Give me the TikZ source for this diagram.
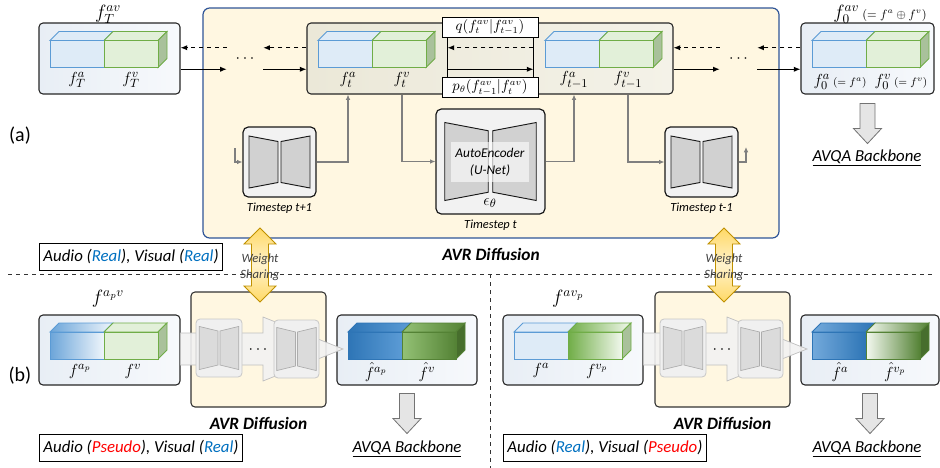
\documentclass[tikz,border=0pt]{standalone}
\usepackage{fontspec}
\setsansfont{Carlito}
\usetikzlibrary{positioning}
\usetikzlibrary{arrows.meta}
\newdimen\px
\px=0.75pt
\definecolor{avrfill}{HTML}{FFF7E1}
\definecolor{avrline}{HTML}{2F5597}
\definecolor{featL}{HTML}{E8EEF5}
\definecolor{featR}{HTML}{F7F9FC}
\definecolor{midL}{HTML}{EBE8D8}
\definecolor{midR}{HTML}{F4F2E8}
\definecolor{bluL}{HTML}{DEEBF7}
\definecolor{bluD}{HTML}{5B9BD5}
\definecolor{bluX}{HTML}{2E75B6}
\definecolor{grnL}{HTML}{E2F0D9}
\definecolor{grnD}{HTML}{70AD47}
\definecolor{grnX}{HTML}{548235}
\definecolor{grnS}{HTML}{A9C19B}
\definecolor{realc}{HTML}{0070C0}
\definecolor{pseudoc}{HTML}{FF0000}
\definecolor{gold}{HTML}{FFD966}
\definecolor{goldL}{HTML}{FFF2CC}
\definecolor{goldD}{HTML}{BF9000}
\definecolor{conn}{HTML}{7F7F7F}
\tikzset{
    avrpanel/.style = {draw=avrline, line width=0.9pt, rounded corners=5pt, fill=avrfill},
    avrsmall/.style = {draw=black!80, line width=0.8pt, rounded corners=3pt, fill=avrfill, minimum width=135\px, minimum height=115\px},
    featbox/.style = {draw=black!85, line width=0.8pt, rounded corners=3pt, left color=featL, right color=featR, minimum width=141\px, minimum height=71\px},
    midbox/.style = {draw=black!85, line width=0.8pt, rounded corners=3pt, left color=midL, right color=midR},
    qpbox/.style = {draw=black, line width=0.7pt, fill=white, minimum width=96\px, minimum height=20\px, inner sep=0pt, font=\fontsize{10.5}{12}\selectfont},
    condbox/.style = {draw=black, line width=0.7pt, fill=white, minimum height=27\px, inner xsep=3pt, font=\sffamily\itshape\fontsize{12.6}{14}\selectfont},
    blk/.style = {draw=black!90, line width=0.9pt, rounded corners=4pt, fill=black!5},
    blkfade/.style = {draw=black!22, line width=0.6pt, rounded corners=3pt, fill=black!6, minimum width=46\px, minimum height=58\px},
    trap/.style = {draw=black!90, line width=0.7pt, fill=black!18},
    trapfade/.style = {draw=black!32, line width=0.5pt, fill=black!14},
    aebox/.style = {fill=white, fill opacity=0.6, text opacity=1, align=center, minimum width=78\px, minimum height=40\px, inner sep=1pt, font=\sffamily\itshape\fontsize{10}{13}\selectfont},
    dots/.style = {minimum height=21\px, inner sep=0pt, font=\fontsize{12}{14}\selectfont},
    fwd/.style = {-{Latex[length=5pt,width=4pt]}, line width=0.8pt, black},
    bwd/.style = {fwd, dashed},
    grayarr/.style = {-{Latex[length=4pt,width=3.5pt]}, line width=0.8pt, conn},
    sepline/.style = {dashed, line width=0.6pt, black!80},
    fadearr/.style = {draw=black!25, line width=0.5pt, fill=black!5, fill opacity=0.9},
    wsfill/.style = {draw=goldD, line width=0.6pt, top color=gold, bottom color=gold, middle color=goldL},
    bigarr/.style = {fill=black!10, draw=black!55, line width=0.6pt},
    mlabel/.style = {font=\fontsize{13}{15}\selectfont, inner sep=1pt},
    tlabel/.style = {font=\fontsize{14}{16}\selectfont, inner sep=1pt},
    steplabel/.style = {font=\sffamily\itshape\fontsize{9.3}{11}\selectfont, inner sep=1pt},
    diflabel/.style = {font=\sffamily\bfseries\itshape\fontsize{13}{15}\selectfont, inner sep=1pt},
    backbone/.style = {font=\sffamily\itshape\fontsize{12.6}{14}\selectfont, inner sep=1pt},
    wslabel/.style = {align=center, text=black!75, font=\sffamily\itshape\fontsize{9.5}{12}\selectfont, inner sep=0pt},
    partlabel/.style = {font=\sffamily\fontsize{15}{18}\selectfont},
    % cube faces
    aplain/.style = {fill=bluL, draw=bluD, line width=0.7pt},
    vplain/.style = {fill=grnL, draw=grnD, line width=0.7pt},
    vside/.style = {fill=grnS, draw=grnD, line width=0.7pt},
    afade/.style = {left color=bluD!90, right color=bluL!50!white, draw=bluD, line width=0.7pt},
    vfade/.style = {left color=grnD, right color=grnL!50!white, draw=grnD, line width=0.7pt},
    ahatA/.style = {left color=bluX, middle color=bluL!60!white, right color=bluD, draw=bluX, line width=0.7pt},
    vhatA/.style = {left color=grnD!75!white, right color=grnX, draw=grnX, line width=0.7pt},
    ahatB/.style = {left color=bluD!85, middle color=bluL!40!white, right color=bluX, draw=bluX, line width=0.7pt},
    vhatB/.style = {left color=grnL!40!white, right color=grnX, draw=grnX, line width=0.7pt},
    vsideD/.style = {fill=grnX!85!black, draw=grnX, line width=0.7pt},
    unet/.pic = {
        \draw[#1] (-30.5,-26) -- (-1.5,-20.5) -- (-1.5,20.5) -- (-30.5,26) -- cycle;
        \draw[#1] (30.5,-26) -- (1.5,-20.5) -- (1.5,20.5) -- (30.5,26) -- cycle;
    },
    wsarrow/.pic = {
        \draw[wsfill] (0,0) -- (16,16) -- (8.5,16) -- (8.5,58) -- (16,58) -- (0,74) -- (-16,58) -- (-8.5,58) -- (-8.5,16) -- (-16,16) -- cycle;
    },
    downarr/.pic = {
        \draw[bigarr] (-7.5,0) -- (7.5,0) -- (7.5,25) -- (14,25) -- (0,40) -- (-14,25) -- (-7.5,25) -- cycle;
    }
}
% front top-left x, y; audio style; visual style; side style
\newcommand{\featcube}[5]{%
  \draw[#3] (#1,#2) -- ++(9,-9) -- ++(54,0) -- ++(-9,9) -- cycle;
  \draw[#4] (#1+54,#2) -- ++(9,-9) -- ++(54,0) -- ++(-9,9) -- cycle;
  \draw[#5] (#1+108,#2) -- ++(9,-9) -- ++(0,27) -- ++(-9,9) -- cycle;
  \draw[#3] (#1,#2) rectangle ++(54,27);
  \draw[#4] (#1+54,#2) rectangle ++(54,27);
}
\begin{document}
\begin{tikzpicture}[x=0.75pt, y=-0.75pt]
\useasboundingbox (0,0) rectangle (940,468);

% (a) AVR diffusion
\node[avrpanel, minimum width=576\px, minimum height=230\px] (avr) at (491,123) {};
\node[diflabel, below=6pt of avr] (avrlbl) {AVR Diffusion};
\node[partlabel] (pa) at (20,136) {(a)};

\node[featbox] (fT) at (109.5,58.5) {};
\node[midbox, minimum width=366\px, minimum height=71\px] (ft) at (490,58.5) {};
\node[featbox, minimum width=133\px] (f0) at (867.5,58.5) {};
\featcube{50}{40.5}{aplain}{vplain}{vside}
\featcube{318}{40.5}{aplain}{vplain}{vside}
\featcube{545}{40.5}{aplain}{vplain}{vside}
\featcube{812}{40.5}{aplain}{vplain}{vside}

\node[tlabel] (tT) at (108,14) {$f_T^{av}$};
\node[tlabel] (t0) at (880,14) {$f_0^{av}$\,{\fontsize{9}{10}\selectfont$(=f^a\oplus f^v)$}};
\node[mlabel] (lTa) at (77,80) {$f_T^a$};
\node[mlabel] (lTv) at (131,80) {$f_T^v$};
\node[mlabel] (lta) at (348,80) {$f_t^a$};
\node[mlabel] (ltv) at (402,80) {$f_t^v$};
\node[mlabel] (lsa) at (574,80) {$f_{t-1}^a$};
\node[mlabel] (lsv) at (628,80) {$f_{t-1}^v$};
\node[mlabel] (l0a) at (840,82) {$f_0^a$\,{\fontsize{8.5}{9}\selectfont$(=f^a)$}};
\node[mlabel] (l0v) at (901,82) {$f_0^v$\,{\fontsize{8.5}{9}\selectfont$(=f^v)$}};

% forward / reverse chain
\node[dots, minimum width=36\px] (dL) at (245,58.5) {$\cdots$};
\node[dots, minimum width=37\px] (dR) at (738.5,58.5) {$\cdots$};
\draw[bwd] (ft.west |- dL.north) -- (dL.north east);
\draw[bwd] (dL.north west) -- (fT.east |- dL.north);
\draw[fwd] (fT.east |- dL.south) -- (dL.south west);
\draw[fwd] (dL.south east) -- (ft.west |- dL.south);
\draw[bwd] (f0.west |- dR.north) -- (dR.north east);
\draw[bwd] (dR.north west) -- (ft.east |- dR.north);
\draw[fwd] (ft.east |- dR.south) -- (dR.south west);
\draw[fwd] (dR.south east) -- (f0.west |- dR.south);

\node[qpbox] (q) at (490,27) {$q(f_t^{av}|f_{t-1}^{av})$};
\node[qpbox] (p) at (490,87.5) {$p_\theta(f_{t-1}^{av}|f_t^{av})$};
\coordinate (qL) at ([xshift=6\px]q.south west);
\coordinate (qR) at ([xshift=-5\px]q.south east);
\draw[line width=0.6pt] (qL) -- (qL |- p.north);
\draw[line width=0.6pt] (qR) -- (qR |- p.north);
\draw[bwd] (qR |- dL.north) -- (qL |- dL.north);
\draw[fwd] (qL |- dL.south) -- (qR |- dL.south);

% timesteps
\node[blk, minimum width=73\px, minimum height=70\px] (bA) at (279.5,162) {};
\pic at (bA) {unet=trap};
\node[steplabel, below=3pt of bA] (sA) {Timestep t+1};
\node[blk, minimum width=109\px, minimum height=105\px] (bB) at (490.5,161.5) {};
\pic[scale=1.5] at (bB) {unet=trap};
\node[aebox] (ae) at (490,162) {AutoEncoder\\(U-Net)};
\node[mlabel] (eps) at (490,203) {$\epsilon_\theta$};
\node[steplabel, below=3pt of bB] (sB) {Timestep t};
\node[blk, minimum width=73\px, minimum height=70\px] (bC) at (701.5,162) {};
\pic at (bC) {unet=trap};
\node[steplabel, below=3pt of bC] (sC) {Timestep t-1};

\coordinate (inA) at (235,148);
\coordinate (outC) at (746,147);
\draw[grayarr] (inA) |- (bA.west);
\draw[grayarr] (bA.east) -| (ft.south -| lta);
\draw[grayarr] (ft.south -| ltv) |- (bB.west);
\draw[grayarr] (bB.east) -| (ft.south -| lsa);
\draw[grayarr] (ft.south -| lsv) |- (bC.west);
\draw[grayarr] (bC.east) -| (outC);

\pic at ([yshift=-9\px]f0.south) {downarr};
\node[backbone] (bb0) at (867,158) {\underline{AVQA Backbone}};

\node[condbox, anchor=west] (c1) at (39,256.5) {Audio (\textcolor{realc}{Real}), Visual (\textcolor{realc}{Real})};

% separators
\draw[sepline] (8,274) -- (935,274);
\draw[sepline] (490,274) -- (490,468);

% (b) left: pseudo audio
\node[partlabel] (pb) at (20,376) {(b)};
\node[tlabel] (tP1) at (108,299) {$f^{a_pv}$};
\node[featbox, minimum height=70\px] (in1) at (109.5,350) {};
\featcube{50}{332}{afade}{vplain}{vside}
\node[mlabel] at (80,371) {$f^{a_p}$};
\node[mlabel] at (133,371) {$f^{v}$};
\node[avrsmall] (avr1) at (258.5,349.5) {};
\node[diflabel, below=6pt of avr1] {AVR Diffusion};
\node[featbox, minimum height=70\px, minimum width=140\px] (out1) at (407,350) {};
\featcube{348}{332}{ahatA}{vhatA}{vsideD}
\node[mlabel] at (376,372) {$\hat f^{a_p}$};
\node[mlabel] at (427,372) {$\hat f^{v}$};
\draw[fadearr] (in1.east |- 0,333) -- (263,333) -- (263,317) -- (343,349) -- (263,381) -- (263,365) -- (in1.east |- 0,365) -- cycle;
\node[blkfade] (fa1) at (219,348) {};
\pic[xscale=0.65, yscale=0.83] at (fa1) {unet=trapfade};
\node[blkfade, minimum width=45\px] (fb1) at (296.5,349) {};
\pic[xscale=0.65, yscale=0.83] at (fb1) {unet=trapfade};
\node[dots] (dd1) at (258,350) {$\cdots$};
\pic at ([yshift=-8\px]out1.south) {downarr};
\node[backbone] (bb1) at (407,449) {\underline{AVQA Backbone}};
\node[condbox, anchor=west] (c2) at (39,448) {Audio (\textcolor{pseudoc}{Pseudo}), Visual (\textcolor{realc}{Real})};

% (b) right: pseudo visual
\node[tlabel] (tP2) at (568,299) {$f^{av_p}$};
\node[featbox, minimum height=70\px, minimum width=140\px] (in2) at (573,350) {};
\featcube{514}{332}{aplain}{vfade}{vside}
\node[mlabel] at (541,370) {$f^{a}$};
\node[mlabel] at (597,371) {$f^{v_p}$};
\node[avrsmall] (avr2) at (722.5,349.5) {};
\node[diflabel, below=6pt of avr2] {AVR Diffusion};
\node[featbox, minimum height=70\px, minimum width=138\px] (out2) at (870,350) {};
\featcube{812}{332}{ahatB}{vhatB}{vsideD}
\node[mlabel] at (840,372) {$\hat f^{a}$};
\node[mlabel] at (895,372) {$\hat f^{v_p}$};
\draw[fadearr] (in2.east |- 0,333) -- (727,333) -- (727,317) -- (807,349) -- (727,381) -- (727,365) -- (in2.east |- 0,365) -- cycle;
\node[blkfade] (fa2) at (683,348) {};
\pic[xscale=0.65, yscale=0.83] at (fa2) {unet=trapfade};
\node[blkfade, minimum width=45\px] (fb2) at (760.5,349) {};
\pic[xscale=0.65, yscale=0.83] at (fb2) {unet=trapfade};
\node[dots] (dd2) at (722,350) {$\cdots$};
\pic at ([yshift=-8\px]out2.south) {downarr};
\node[backbone] (bb2) at (867,449) {\underline{AVQA Backbone}};
\node[condbox, anchor=west] (c3) at (503,448) {Audio (\textcolor{realc}{Real}), Visual (\textcolor{pseudoc}{Pseudo})};

% weight sharing
\pic at (260,228) {wsarrow};
\pic at (724,228) {wsarrow};
\node[wslabel] (ws1) at (260,267) {Weight\\Sharing};
\node[wslabel] (ws2) at (724,267) {Weight\\Sharing};
\end{tikzpicture}
\end{document}
